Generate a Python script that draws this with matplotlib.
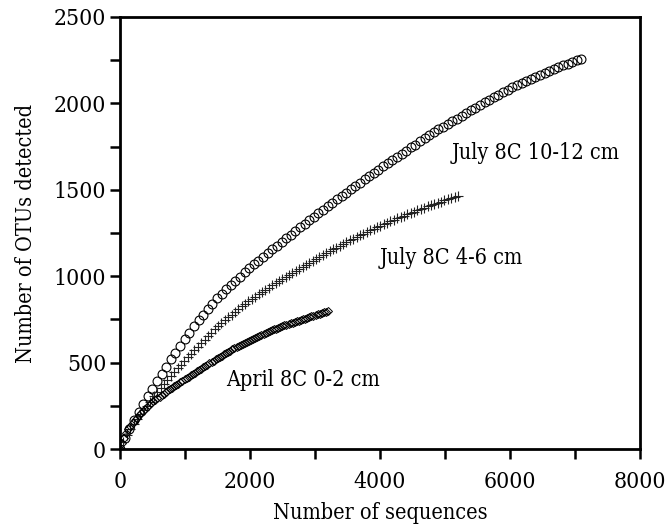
"""Rarefaction curves for the three 8C sediment libraries -> out.png"""
import numpy as np
import matplotlib

matplotlib.use("Agg")
import matplotlib.pyplot as plt
from matplotlib import font_manager
from matplotlib.ticker import MultipleLocator, NullFormatter

# narrowest serif face available
serif = [f for f in font_manager.fontManager.ttflist if "Serif" in f.name]
condensed = [f for f in serif if "ondensed" in f.fname]
plt.rcParams["font.family"] = "serif"
if condensed:
    font_manager.fontManager.addfont(condensed[0].fname)
    plt.rcParams["font.serif"] = [condensed[0].name]
    plt.rcParams["font.stretch"] = "condensed"

# rarefaction depth (number of sequences drawn) for each library
seq_july_10_12 = np.arange(0, 7101, 71)
seq_july_4_6 = np.arange(0, 5201, 52)
seq_april_0_2 = np.arange(0, 3201, 32)

# OTUs observed at each depth
otu_july_10_12 = [
    0, 62, 118, 166, 213, 258, 304, 348, 391, 434,
    476, 518, 558, 598, 637, 673, 709, 744, 778, 810,
    841, 871, 898, 924, 949, 974, 998, 1022, 1046, 1068,
    1090, 1112, 1134, 1156, 1177, 1198, 1219, 1240, 1261, 1282,
    1302, 1323, 1344, 1364, 1384, 1404, 1424, 1444, 1463, 1483,
    1502, 1522, 1541, 1560, 1579, 1598, 1617, 1636, 1654, 1672,
    1691, 1709, 1727, 1745, 1762, 1780, 1797, 1815, 1832, 1849,
    1866, 1880, 1896, 1912, 1928, 1944, 1960, 1975, 1991, 2006,
    2021, 2036, 2051, 2066, 2080, 2094, 2107, 2119, 2131, 2143,
    2154, 2166, 2177, 2188, 2199, 2209, 2220, 2230, 2240, 2249,
    2258,
]
otu_july_4_6 = [
    0, 42, 80, 114, 146, 175, 201, 226, 250, 273,
    304, 328, 352, 376, 400, 423, 445, 467, 489, 510,
    531, 552, 572, 593, 613, 633, 653, 673, 692, 711,
    728, 745, 762, 778, 794, 810, 825, 840, 855, 869,
    882, 895, 908, 921, 934, 947, 960, 972, 984, 996,
    1008, 1020, 1032, 1044, 1056, 1067, 1079, 1090, 1101, 1112,
    1123, 1134, 1145, 1156, 1166, 1177, 1187, 1197, 1207, 1217,
    1227, 1237, 1246, 1256, 1265, 1274, 1283, 1292, 1301, 1310,
    1319, 1327, 1335, 1343, 1351, 1359, 1367, 1374, 1382, 1389,
    1397, 1404, 1411, 1418, 1425, 1432, 1439, 1446, 1453, 1460,
    1466,
]
otu_april_0_2 = [
    0, 35, 66, 92, 113, 132, 150, 166, 181, 195,
    208, 220, 232, 243, 254, 265, 275, 285, 294, 303,
    312, 321, 330, 339, 347, 355, 363, 371, 379, 387,
    395, 403, 411, 419, 427, 434, 442, 450, 458, 465,
    473, 481, 488, 496, 504, 511, 519, 526, 534, 541,
    548, 555, 562, 569, 576, 583, 590, 596, 603, 609,
    615, 621, 627, 633, 639, 645, 650, 656, 661, 667,
    672, 677, 682, 687, 692, 697, 701, 706, 710, 715,
    719, 723, 727, 731, 735, 739, 743, 747, 751, 755,
    759, 763, 767, 771, 775, 779, 783, 787, 791, 795,
    799,
]

labels = ["July 8C 10-12 cm", "July 8C 4-6 cm", "April 8C 0-2 cm"]

fig = plt.figure(figsize=(6.67, 5.31), dpi=100)
ax = fig.add_axes([0.18, 0.1544, 0.7795, 0.8136])

ax.plot(seq_july_10_12, otu_july_10_12, ls="none", marker="o", ms=6.4,
        mfc="none", mec="black", mew=0.8)
ax.plot(seq_july_4_6, otu_july_4_6, ls="none", marker="+", ms=7.5,
        color="#222222", mew=0.8)
ax.plot(seq_april_0_2, otu_april_0_2, ls="none", marker="D", ms=4.5,
        mfc="none", mec="black", mew=0.7)

ax.text(6400, 1713, labels[0], fontsize=15.5, ha="center", va="center")
ax.text(5092, 1105, labels[1], fontsize=15.5, ha="center", va="center")
ax.text(2815, 400, labels[2], fontsize=15.5, ha="center", va="center")

ax.set_xlim(0, 8000)
ax.set_ylim(0, 2500)
ax.xaxis.set_major_locator(MultipleLocator(2000))
ax.xaxis.set_minor_locator(MultipleLocator(1000))
ax.yaxis.set_major_locator(MultipleLocator(500))
ax.yaxis.set_minor_locator(MultipleLocator(250))
ax.xaxis.set_minor_formatter(NullFormatter())
ax.yaxis.set_minor_formatter(NullFormatter())
ax.tick_params(which="both", direction="out", length=7, width=1.8,
               labelsize=16.5, top=False, right=False)
ax.tick_params(axis="x", pad=9)
ax.tick_params(axis="y", pad=3)
for spine in ax.spines.values():
    spine.set_linewidth(2)

ax.set_xlabel("Number of sequences", fontsize=15.5, labelpad=6)
ax.set_ylabel("Number of OTUs detected", fontsize=15.5, labelpad=12)

fig.savefig("out.png", dpi=100, facecolor="white")
